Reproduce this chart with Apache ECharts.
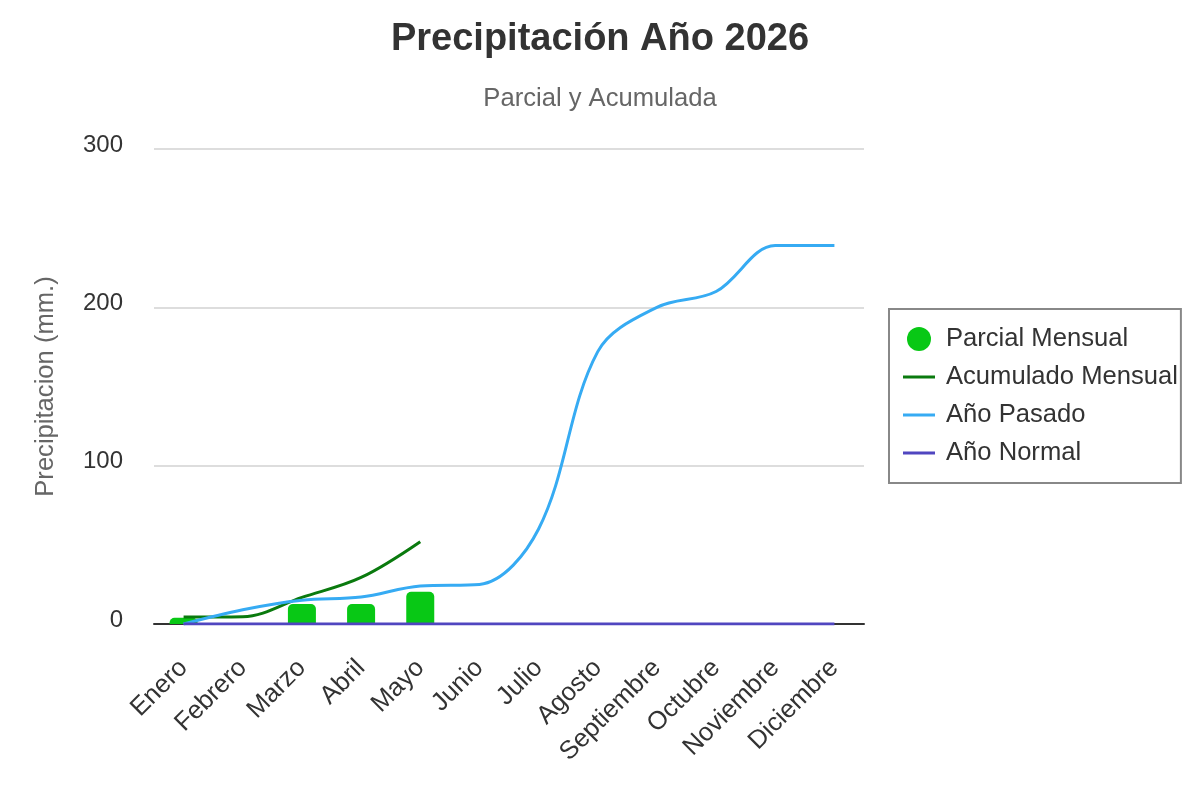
<!DOCTYPE html>
<html>
<head>
<meta charset="utf-8">
<title>Precipitación Año 2026</title>
<script src="https://cdn.jsdelivr.net/npm/echarts@6/dist/echarts.min.js"></script>
<style>
  html, body { margin: 0; padding: 0; background: #fff; }
  #chart { width: 1200px; height: 800px; }
</style>
</head>
<body>
<div id="chart"></div>
<script>
// Precipitation chart - monthly partial + accumulated vs last year / normal year

var months = ['Enero', 'Febrero', 'Marzo', 'Abril', 'Mayo', 'Junio', 'Julio',
              'Agosto', 'Septiembre', 'Octubre', 'Noviembre', 'Diciembre'];
var parcialMensual = [4, 0.2, 12.6, 12.6, 20.4];
var acumuladoMensual = [4.4, 4.6, 16.8, 29.4, 52];
var anoPasado = [0, 9, 15, 17, 24, 25, 60, 172, 200, 210, 239, 239];
var anoNormal = [0, 0, 0, 0, 0, 0, 0, 0, 0, 0, 0, 0];
var yTicks = { min: 0, max: 300, interval: 100 };

(function () {
  'use strict';

  var FONT = '"Liberation Sans", Arial, sans-serif';
  // thin bar centred in a 32x24 box, so the legend line sits in the middle
  var LINE_ICON = 'path://M0,0L0,24M0,10.5L32,10.5L32,13.5L0,13.5Z';

  var colors = {
    parcial: '#08c815',
    acumulado: '#0a7a0e',
    pasado: '#36abf3',
    normal: '#5046c0'
  };

  var chart = echarts.init(document.getElementById('chart'));

  function lineSeries(name, data, color) {
    return {
      name: name,
      type: 'line',
      data: data,
      smooth: 0.35,
      showSymbol: false,
      symbol: 'none',
      lineStyle: { color: color, width: 3 },
      itemStyle: { color: color },
      z: 3
    };
  }

  var option = {
    animation: false,
    textStyle: { fontFamily: FONT },
    title: {
      text: 'Precipitación Año 2026',
      subtext: 'Parcial y Acumulada',
      left: 'center',
      top: 21,
      padding: 0,
      itemGap: 27,
      textStyle: { fontSize: 38, fontWeight: 'bold', color: '#333', fontFamily: FONT },
      subtextStyle: { fontSize: 25.6, color: '#666', fontFamily: FONT }
    },
    legend: {
      orient: 'vertical',
      left: 889,
      top: 309,
      padding: [17, 3, 17, 14],
      borderColor: '#888',
      borderWidth: 2,
      itemWidth: 32,
      itemHeight: 24,
      itemGap: 12,
      textStyle: { fontSize: 25.6, color: '#333', fontFamily: FONT, padding: [0, 0, 0, 6] },
      data: [
        { name: 'Parcial Mensual', icon: 'circle' },
        { name: 'Acumulado Mensual', icon: LINE_ICON },
        { name: 'Año Pasado', icon: LINE_ICON },
        { name: 'Año Normal', icon: LINE_ICON }
      ]
    },
    grid: {
      left: 154,
      right: 336,
      top: 149,
      bottom: 176,
      containLabel: false
    },
    xAxis: {
      type: 'category',
      data: months,
      boundaryGap: true,
      axisLine: { lineStyle: { color: '#333', width: 2 } },
      axisTick: { show: false },
      axisLabel: {
        rotate: 45,
        margin: 40,
        fontSize: 25.6,
        color: '#333',
        fontFamily: FONT,
        interval: 0
      },
      splitLine: { show: false }
    },
    yAxis: {
      type: 'value',
      min: yTicks.min,
      max: yTicks.max,
      interval: yTicks.interval,
      name: 'Precipitacion (mm.)',
      nameLocation: 'middle',
      nameGap: 95,
      nameTextStyle: { fontSize: 25.6, color: '#666', fontFamily: FONT },
      axisLine: { show: false },
      axisTick: { show: false },
      axisLabel: {
        fontSize: 24,
        color: '#333',
        margin: 31,
        fontFamily: FONT,
        verticalAlign: 'bottom',
        lineHeight: 8
      },
      splitLine: { lineStyle: { color: '#ddd', width: 2 } }
    },
    series: [
      {
        name: 'Parcial Mensual',
        type: 'bar',
        data: parcialMensual,
        barWidth: 28,
        itemStyle: { color: colors.parcial, borderRadius: [5, 5, 0, 0] },
        z: 2
      },
      lineSeries('Acumulado Mensual', acumuladoMensual, colors.acumulado),
      lineSeries('Año Pasado', anoPasado, colors.pasado),
      lineSeries('Año Normal', anoNormal, colors.normal)
    ]
  };

  chart.setOption(option);

  window.addEventListener('resize', function () {
    chart.resize();
  });
})();
</script>
</body>
</html>
